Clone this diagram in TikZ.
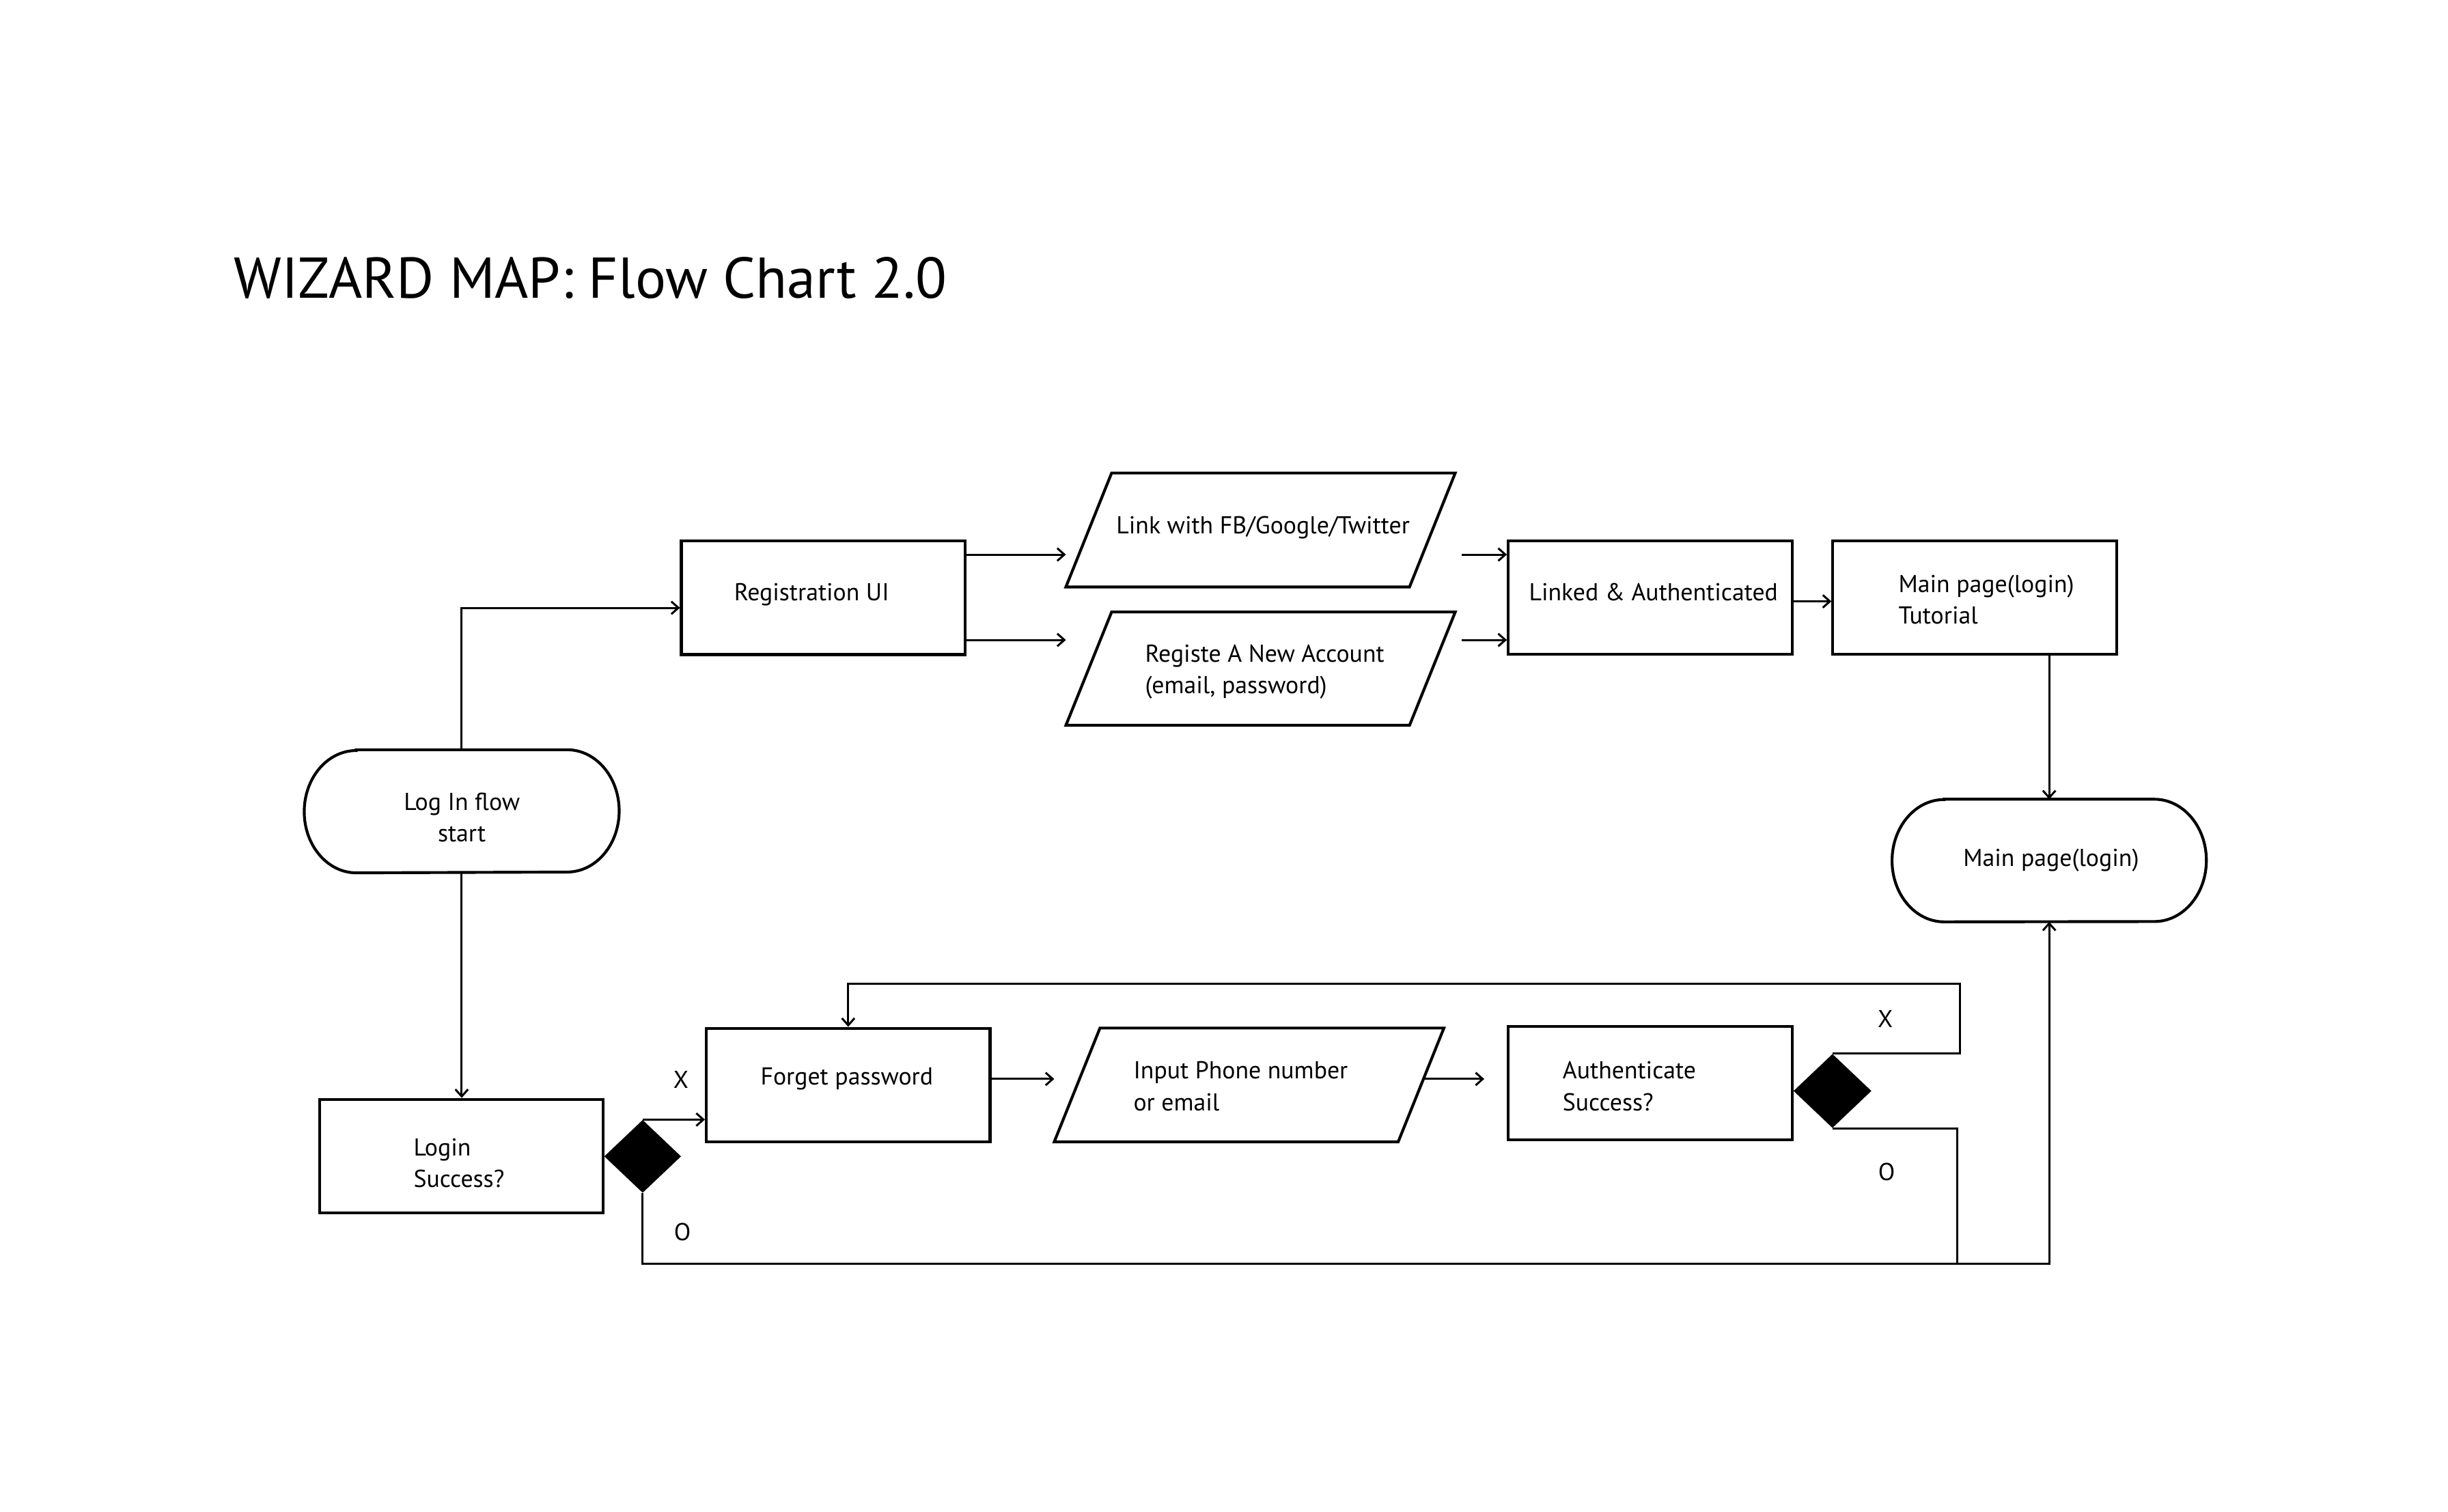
\documentclass[tikz,border=0pt]{standalone}
\usepackage{fontspec}
\setmainfont{PT Sans}
\usetikzlibrary{arrows.meta,shapes.geometric,calc}
\begin{document}
\begin{tikzpicture}[x=1pt,y=-1pt,
  boxline/.style={line width=1.8pt},
  box/.style={draw,boxline,rectangle,inner sep=0pt,minimum width=180pt,minimum height=72pt},
  shp/.style={inner sep=0pt,draw=none},
  conn/.style={line width=1.3pt},
  arr/.style={conn,-{Straight Barb[length=4.5pt,width=8pt]}},
  txt/.style={inner sep=0pt,font=\fontsize{15.5}{20}\selectfont,align=left,anchor=base west},
  ctxt/.style={inner sep=0pt,font=\fontsize{15.5}{20}\selectfont,align=center,anchor=base},
  dec/.style={diamond,fill=black,inner sep=0pt}
]
\fill[white] (0,0) rectangle (1553,959);
\useasboundingbox (0,0) rectangle (1553,959);

% title
\node[anchor=base west,inner sep=0pt,font=\fontsize{36.5}{44}\selectfont] (title) at (148.2,189.2) {WIZARD MAP: Flow Chart 2.0};

% boxes
\node[box] (reg)   at (522.25,379.35) {};
\node[box] (lnk)   at (1046.85,379.25) {};
\node[box] (mtut)  at (1252.75,379.25) {};
\node[box] (lsucc) at (292.7,733.55) {};
\node[box] (fp)    at (538.1,688.4) {};
\node[box] (auth)  at (1046.9,687.15) {};

% parallelograms
\node[shp,minimum width=246.6pt,minimum height=71.9pt] (p1) at (799.7,336.25) {};
\node[shp,minimum width=246.6pt,minimum height=71.5pt] (p2) at (799.7,424.25) {};
\node[shp,minimum width=246.8pt,minimum height=71.8pt] (inp) at (792.4,688.4) {};
\foreach \p in {p1,p2,inp}{
  \draw[boxline] ($(\p.north west)+(29,0)$) -- (\p.north east) -- ($(\p.south east)+(-29,0)$) -- (\p.south west) -- cycle;
}

% terminals
\node[shp,minimum width=199.4pt,minimum height=77.7pt] (start) at (292.9,514.75) {};
\node[shp,minimum width=199pt,minimum height=77.4pt] (mmain) at (1300,546) {};
\foreach \p in {start,mmain}{
  \draw[boxline] ($(\p.north west)+(33,0)$) -- ($(\p.north east)+(-33,0)$)
    arc[start angle=90,end angle=-90,x radius=33pt,y radius=38.8pt]
    -- ($(\p.south west)+(33,0)$)
    arc[start angle=270,end angle=90,x radius=33pt,y radius=38.8pt] -- cycle;
}

% decisions
\node[dec,minimum width=48.8pt,minimum height=46.3pt] (d1) at (407.7,733.7) {};
\node[dec,minimum width=49.5pt,minimum height=47pt] (d2) at (1162.5,692.2) {};

% texts (multi-line nodes are placed by the baseline of their last line)
\node[txt] (regT) at (465.5,381.3) {Registration UI};
\node[txt] (p1T) at (708,338.7) {Link with FB/Google/Twitter};
\node[txt] (p2T) at (726.3,440.2) {Registe A New Account\\(email, password)};
\node[txt] (lnkT) at (969.8,381.3) {Linked \& Authenticated};
\node[txt] (mtutT) at (1204.2,396) {Main page(login)\\Tutorial};
\node[ctxt] (startT) at (293,534.2) {Log In flow\\start};
\node[ctxt] (mmainT) at (1301.2,549.6) {Main page(login)};
\node[txt] (lsuccT) at (262.2,753.4) {Login\\Success?};
\node[txt] (fpT) at (482.3,688.2) {Forget password};
\node[txt] (inpT) at (718.9,704.6) {Input Phone number\\or email};
\node[txt] (authT) at (991.2,704.6) {Authenticate\\Success?};
\node[ctxt] (x1) at (432,690.4) {X};
\node[ctxt] (o1) at (432.9,787.2) {O};
\node[ctxt] (x2) at (1196,652.1) {X};
\node[ctxt] (o2) at (1196.8,748.9) {O};

% connectors
\coordinate (regIn) at ([yshift=-6.3pt]reg.west);
\draw[arr] (start.north) |- (regIn);
\draw[arr] (start.south) -- (start.south |- lsucc.north);
\coordinate (r1) at ([yshift=27.5pt]reg.east);
\coordinate (r2) at ([yshift=-26.7pt]reg.east);
\draw[arr] (r1) -- (r1 -| p1.west);
\draw[arr] (r2) -- (r2 -| p2.west);
\draw[arr] ($(r1 -| p1.east)+(4,0)$) -- (r1 -| lnk.west);
\draw[arr] ($(r2 -| p2.east)+(4,0)$) -- (r2 -| lnk.west);
\draw[arr] ([yshift=-2.3pt]lnk.east) -- ([yshift=-2.3pt]mtut.west);
\draw[arr] (mtut.south -| mmain.north) -- (mmain.north);
\draw[arr] (d1.north) -- (d1.north -| fp.west);
\coordinate (botL) at ($(d1.south)+(0,45)$);
\draw[arr] (d1.south) -- (botL) -| (mmain.south);
\coordinate (f1) at ([yshift=3.8pt]fp.east);
\draw[arr] (f1) -- (f1 -| inp.west);
\draw[arr] ($(f1 -| inp.east)+(-12.9,0)$) -- ($(f1 -| auth.west)+(-14.4,0)$);
\coordinate (loopR) at ($(d2.north)+(81,-44.2)$);
\draw[arr] (d2.north) -| (loopR) -| (fp.north);
\coordinate (joinB) at ($(d2.south)+(79,0)$);
\draw[conn] (d2.south) -- (joinB) -- (joinB |- botL);
\end{tikzpicture}
\end{document}
